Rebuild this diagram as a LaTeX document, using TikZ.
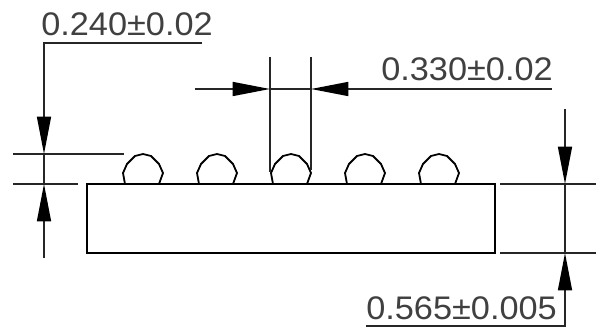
\documentclass[tikz,border=0pt]{standalone}
\usepackage{fontspec}
\setmainfont{Liberation Sans}
\usetikzlibrary{arrows.meta}
\tikzset{
  x=0.75pt,y=-0.75pt,
  part/.style={line width=1.35pt,black,line join=miter},
  dim/.style={line width=1.1pt,black!85},
  tipA/.style={-{Triangle[length=28pt,width=10.5pt,black]}},
  lbl/.style={inner sep=0pt,anchor=base west,font=\fontsize{24.5pt}{24.5pt}\selectfont,xscale=1.05,text=black!75},
}
\newcommand{\bump}[1]{\draw[part,shift={(#1,0)}] (-18,184)--(-20,173)--(-16,164)--(-8,156)--(0,154)--(8,156)--(16,164)--(20,173)--(16,184);}
\begin{document}
\begin{tikzpicture}
\useasboundingbox (0,0) rectangle (596,327);
\draw[part] (87,184) rectangle (495,253);
\bump{143}\bump{217}\bump{291}\bump{365}\bump{439}
\node[lbl] (t1) at (41,36) {0.240±0.02};
\node[lbl] (t2) at (381,81) {0.330±0.02};
\node[lbl] (t3) at (366,320) {0.565±0.005};
% coordinates
\coordinate (a0) at (202,43); \coordinate (a1) at (44,43); \coordinate (a2) at (44,154);
\coordinate (a3) at (44,258); \coordinate (a4) at (44,184);
\coordinate (b0) at (195,89); \coordinate (b1) at (270,89);
\coordinate (c0) at (552,89); \coordinate (c1) at (311,89);
\coordinate (d0) at (565,109); \coordinate (d1) at (565,184);
\coordinate (e0) at (366,326); \coordinate (e1) at (565,326); \coordinate (e2) at (565,253);
% extension lines
\draw[dim] (13,154)--(124,154);
\draw[dim] (13,184)--(78,184);
\draw[dim] (270,57)--(270,172);
\draw[dim] (311,57)--(311,170);
\draw[dim] (500,184)--(596,184);
\draw[dim] (500,253)--(596,253);
% dimension lines
\draw[dim,tipA] (a0)--(a1)--(a2);
\draw[dim,tipA] (a3)--(a4);
\draw[dim,tipA] (b0)--(b1);
\draw[dim] (b1)--(c1);
\draw[dim,tipA] (c0)--(c1);
\draw[dim,tipA] (d0)--(d1);
\draw[dim] (d1)--(e2);
\draw[dim,tipA] (e0)--(e1)--(e2);
\draw[dim] (a2)--(a4);
\end{tikzpicture}
\end{document}
